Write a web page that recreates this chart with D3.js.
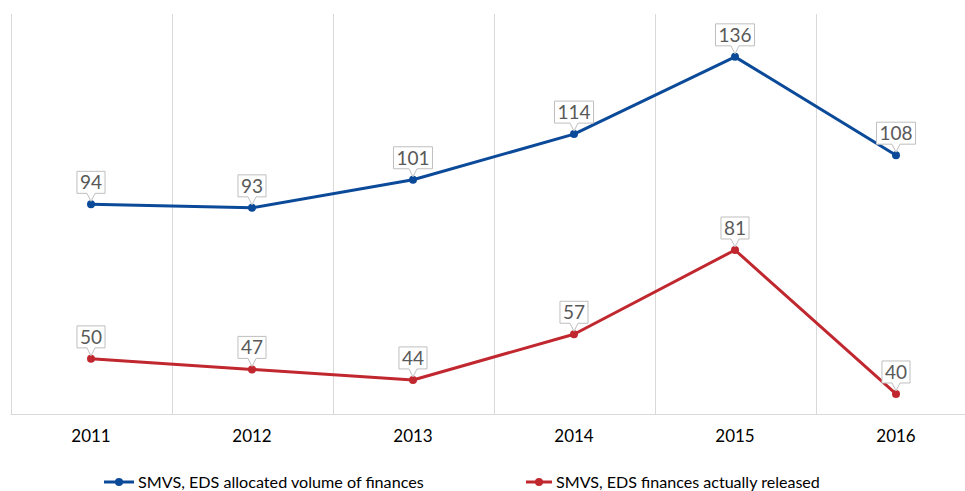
<!DOCTYPE html>
<html>
<head>
<meta charset="utf-8">
<script src="https://cdn.jsdelivr.net/npm/d3@7"></script>
<style>
  html, body { margin: 0; padding: 0; background: #fff; }
  svg { display: block; }
  text { font-family: Lato, "Open Sans", "DejaVu Sans", sans-serif; }
</style>
</head>
<body>
<svg id="chart" width="965" height="491"></svg>
<script>
// Chart data
const years = ["2011", "2012", "2013", "2014", "2015", "2016"];
const allocated = [94, 93, 101, 114, 136, 108];
const released = [50, 47, 44, 57, 81, 40];
const seriesNames = ["SMVS, EDS allocated volume of finances", "SMVS, EDS finances actually released"];
const seriesColors = ["#0b4a99", "#c1272e"];
const yDomain = [34.3, 148.2];

const svg = d3.select("#chart");
const W = 965, H = 491;
const plot = { left: 10.5, right: 976.5, top: 14, bottom: 414 };

const x = d3.scaleBand().domain(years).range([plot.left, plot.right]).padding(0);
const y = d3.scaleLinear().domain(yDomain).range([plot.bottom, plot.top]);
const cx = d => x(d) + x.bandwidth() / 2;

// Vertical category gridlines
const grid = svg.append("g");
const bounds = years.map(d => x(d)).concat([x(years[years.length - 1]) + x.bandwidth()]);
grid.selectAll("line").data(bounds).join("line")
  .attr("x1", d => Math.round(d) + 0.5).attr("x2", d => Math.round(d) + 0.5)
  .attr("y1", plot.top).attr("y2", plot.bottom)
  .attr("stroke", "#d9d9d9").attr("stroke-width", 1);

// Category axis
const xAxis = svg.append("g").attr("transform", `translate(0,${plot.bottom + 0.5})`)
  .call(d3.axisBottom(x).tickSize(0).tickPadding(15));
xAxis.select(".domain").attr("stroke", "#d9d9d9").attr("d", `M${plot.left},0H${W}`);
xAxis.selectAll("text").attr("font-size", 17).attr("fill", "#000");

const series = [allocated, released];
const line = d3.line().x((d, i) => cx(years[i])).y(d => y(d));

series.forEach((vals, si) => {
  const g = svg.append("g");
  g.append("path").datum(vals)
    .attr("d", line)
    .attr("fill", "none")
    .attr("stroke", seriesColors[si])
    .attr("stroke-width", 3)
    .attr("stroke-linejoin", "round");
  g.selectAll("circle").data(vals).join("circle")
    .attr("cx", (d, i) => cx(years[i]))
    .attr("cy", d => y(d))
    .attr("r", 4)
    .attr("fill", seriesColors[si]);

  // Callout value labels
  const lab = g.selectAll("g.lab").data(vals).join("g").attr("class", "lab");
  lab.each(function (d, i) {
    const px = cx(years[i]), py = y(d);
    const sel = d3.select(this);
    const t = sel.append("text")
      .attr("x", px)
      .attr("font-size", 19)
      .attr("fill", "#595959")
      .attr("text-anchor", "middle")
      .text(d);
    const tw = t.node().getComputedTextLength();
    const bw = tw + 6, bh = 22;
    const bottom = py - 11, top = bottom - bh;
    const left = px - bw / 2, right = px + bw / 2;
    const p = d3.path();
    p.moveTo(left, top);
    p.lineTo(right, top);
    p.lineTo(right, bottom);
    p.lineTo(px + 4, bottom);
    p.lineTo(px, py - 3);
    p.lineTo(px - 4, bottom);
    p.lineTo(left, bottom);
    p.closePath();
    sel.insert("path", "text")
      .attr("d", p.toString())
      .attr("fill", "#fff")
      .attr("stroke", "#bfbfbf")
      .attr("stroke-width", 1);
    t.attr("y", top + bh / 2).attr("dy", "0.36em");
  });
});

// Legend
const legendItems = [{ x: 104, tx: 138, w: 286 }, { x: 526, tx: 556, w: 264 }];
const legend = svg.append("g").attr("transform", "translate(0,482)");
legendItems.forEach((it, i) => {
  const lg = legend.append("g");
  const lw = it.tx - it.x - 4;
  lg.append("line").attr("x1", it.x).attr("x2", it.x + lw).attr("y1", 0).attr("y2", 0)
    .attr("stroke", seriesColors[i]).attr("stroke-width", 3);
  lg.append("circle").attr("cx", it.x + lw / 2).attr("cy", 0).attr("r", 4).attr("fill", seriesColors[i]);
  const t = lg.append("text").attr("x", it.tx).attr("y", 0).attr("dy", "0.36em")
    .attr("font-size", 17).attr("fill", "#000").text(seriesNames[i]);
  // scale the font so the label spans its slot
  const tw = t.node().getComputedTextLength();
  t.attr("font-size", Math.min(18, 17 * it.w / tw));
});
</script>
</body>
</html>
